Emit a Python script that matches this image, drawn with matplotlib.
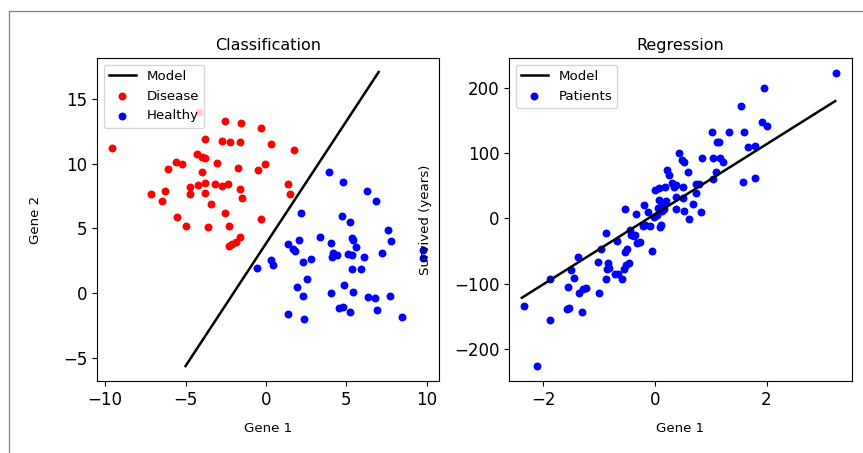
import matplotlib
matplotlib.use("Agg")
import matplotlib.pyplot as plt
from matplotlib.lines import Line2D

# Classification data (Gene 1, Gene 2)
disease_x = [-9.58, -4.14, -2.55, -1.55, -0.33, -3.79, -2.75, -2.24, -1.61, 0.29,
             1.74, -4.3, -3.99, -3.79, -5.61, -5.24, -3.06, -6.11, -3.96, -1.72,
             -0.06, -0.52, -7.14, -6.29, -4.72, -4.2, -3.79, -3.17, -2.75, -2.38,
             -1.61, -3.79, -4.72, -6.46, -3.42, -1.51, -2.57, -5.51, -4.99, -3.62,
             -2.3, -0.33, -1.61, -1.88, -2.13, -2.28, 1.39, 1.49]
disease_y = [11.22, 13.99, 13.27, 13.12, 12.71, 11.86, 11.73, 11.63, 11.63, 11.53,
             11.04, 10.71, 10.52, 10.45, 10.09, 9.94, 10.06, 9.58, 9.37, 9.68,
             9.94, 9.48, 7.65, 7.88, 8.21, 8.34, 8.5, 8.42, 8.27, 8.4,
             8.01, 7.7, 7.65, 7.11, 6.9, 7.32, 6.16, 5.85, 5.21, 5.08,
             5.21, 5.72, 4.31, 3.98, 3.8, 3.64, 8.42, 7.65]

healthy_x = [3.91, 4.8, 6.25, 6.83, 2.17, 4.7, 5.22, 7.56, 7.75, 3.35,
             2.05, 1.39, 1.7, 1.8, 4.02, 5.32, 5.42, 5.59, 4.18, 4.39,
             4.08, 5.11, 5.32, 6.09, 7.19, 2.78, 2.28, 0.29, 0.46, -0.58,
             5.32, 5.88, 2.53, 1.9, 2.28, 4.02, 4.87, 5.38, 6.31, 6.77,
             7.7, 4.55, 4.8, 5.22, 6.87, 1.35, 2.38, 8.43, 9.75, 9.75]
healthy_y = [9.37, 8.6, 7.88, 7.11, 6.16, 5.96, 5.52, 4.88, 4.03, 4.31,
             4.11, 3.8, 3.39, 3.26, 3.9, 4.24, 4.1, 3.54, 3.13, 2.95,
             2.82, 3.03, 2.95, 2.82, 3.13, 2.62, 2.39, 2.57, 2.18, 1.97,
             1.85, 1.85, 1.1, 0.46, -0.18, 0.0, 0.64, 0.13, -0.26, -0.39,
             -0.18, -1.16, -1.03, -1.42, -1.29, -1.6, -2.0, -1.8, 3.34, 2.7]

# decision boundary
model_cls_x = [-5.0, 7.0]
model_cls_y = [-5.6, 17.05]

# Regression data (Gene 1, survival)
patients_x = [-2.35, -2.10, -1.87, -1.87, -1.58, -1.54, -1.30, -1.55, -1.45, -1.50,
              -1.38, -1.35, -1.28, -1.24, -1.0, -1.02, -0.96, -0.87, -0.83, -0.82,
              -0.85, -0.88, -0.72, -0.66, -0.58, -0.56, -0.51, -0.47, -0.54, -0.50,
              -0.68, -0.53, -0.42, -0.38, -0.35, -0.44, -0.32, -0.27, -0.05, -0.33,
              -0.20, -0.13, -0.22, -0.17, -0.09, -0.02, 0.04, 0.01, 0.08, 0.19,
              0.08, 0.13, 0.11, 0.10, 0.22, 0.25, 0.13, 0.17, 0.31, 0.34,
              0.38, 0.20, 3.24, 1.95, 1.55, 1.92, 2.01, 1.02, 1.32, 1.59,
              1.11, 1.15, 1.67, 1.79, 0.44, 0.48, 0.52, 0.59, 0.84, 1.04,
              1.17, 1.22, 1.10, 1.04, 1.57, 1.80, 0.38, 0.50, 0.74, 0.80,
              0.74, 0.05, 0.38, 0.50, 0.68, 0.52, 0.82, 0.62]
patients_y = [-133.8, -226.2, -93, -155.7, -139.4, -137.8, -143, -105.7, -90.9, -79.2,
              -58.8, -114.9, -108.7, -106.3, -114.9, -67.4, -47.5, -22, -68.9, -76.6,
              -77.6, -93, -85.3, -85.3, -93, -78.1, -71.5, -68, -51.1, -47.5,
              -34.3, 13.8, -25.6, -27.1, -25.6, -17.9, -38.3, -35.8, -50, 6.1,
              20.4, 10.1, -11.8, -10.3, -11.8, 2.5, 5.1, 43.3, 45.9, 48.4,
              28, 21.4, -10.3, -12.9, 74, 66.3, 11.2, 13.8, 53.6, 47.5,
              14.2, 26.5, 223, 200, 172, 148, 141.8, 131.7, 131.7, 131.7,
              117.3, 117.3, 109.6, 110.7, 99.5, 89.3, 85.8, 71.4, 92.8, 92.8,
              92.8, 86.7, 70.4, 60.2, 56, 61.2, 51, 48.4, 52.5, 52.5,
              39.2, 15.3, 32.2, 30.6, 21.9, 11.6, 9.2, -1.1]

# fitted line
model_reg_x = [-2.38, 3.23]
model_reg_y = [-121.6, 179.6]

fig = plt.figure(figsize=(8.63, 4.53), dpi=100)

# notebook output frame
fig.add_artist(Line2D([9 / 863, 1], [1 - 11 / 453, 1 - 11 / 453], color="#808080", lw=0.9))
fig.add_artist(Line2D([9 / 863, 9 / 863], [0, 1 - 11 / 453], color="#808080", lw=0.9))

ax1 = fig.add_axes([97 / 863, 72 / 453, 342 / 863, 323 / 453])
ax1.plot(model_cls_x, model_cls_y, color="black", lw=1.8, label="Model")
ax1.scatter(disease_x, disease_y, color="red", s=22, label="Disease")
ax1.scatter(healthy_x, healthy_y, color="blue", s=22, label="Healthy")
ax1.set_xlim(-10.5, 10.75)
ax1.set_ylim(-6.75, 18.13)
ax1.set_xticks([-10, -5, 0, 5, 10])
ax1.set_yticks([-5, 0, 5, 10, 15])
ax1.tick_params(labelsize=12)
ax1.set_title("Classification", fontsize=11.5)
ax1.set_xlabel("Gene 1", fontsize=9.6)
ax1.set_ylabel("Gene 2", fontsize=9.6)
ax1.xaxis.set_label_coords(0.5, -0.126)
ax1.yaxis.set_label_coords(-0.161, 0.5)
ax1.legend(loc="upper left", fontsize=9.6)

ax2 = fig.add_axes([509 / 863, 72 / 453, 343 / 863, 323 / 453])
ax2.plot(model_reg_x, model_reg_y, color="black", lw=1.8, label="Model")
ax2.scatter(patients_x, patients_y, color="blue", s=22, label="Patients")
ax2.set_xlim(-2.61, 3.53)
ax2.set_ylim(-249, 245.5)
ax2.set_xticks([-2, 0, 2])
ax2.set_yticks([-200, -100, 0, 100, 200])
ax2.tick_params(labelsize=12)
ax2.set_title("Regression", fontsize=11.5)
ax2.set_xlabel("Gene 1", fontsize=9.6)
ax2.set_ylabel("Survived (years)", fontsize=9.6)
ax2.xaxis.set_label_coords(0.5, -0.126)
ax2.yaxis.set_label_coords(-0.225, 0.5)
ax2.legend(loc="upper left", fontsize=9.6)

fig.savefig("out.png", dpi=100)
